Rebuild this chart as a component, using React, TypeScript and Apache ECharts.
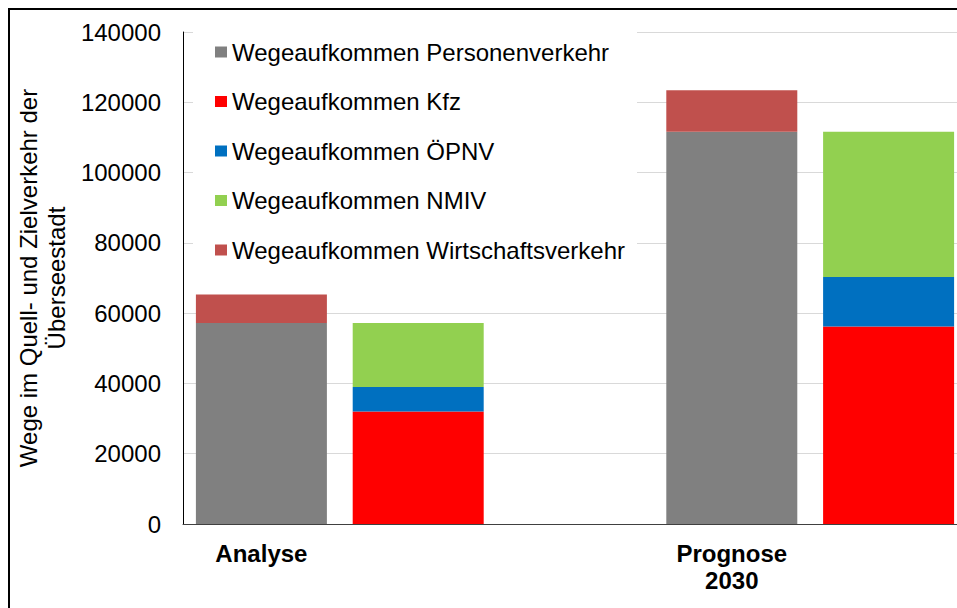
import React, { useEffect, useRef } from "react";
import * as echarts from "echarts";

const categories = ["Analyse", "Prognose\n2030"];
const personenverkehr = [57200, 111600];
const kfz = [32000, 56200];
const oepnv = [7000, 14100];
const nmiv = [18200, 41300];
const wirtschaftsverkehr = [8100, 11800];

const seriesNames = [
  "Wegeaufkommen Personenverkehr",
  "Wegeaufkommen Kfz",
  "Wegeaufkommen ÖPNV",
  "Wegeaufkommen NMIV",
  "Wegeaufkommen Wirtschaftsverkehr",
];
const seriesColors = ["#808080", "#ff0000", "#0070c0", "#92d050", "#c0504d"];
const yAxisTitle = "Wege im Quell- und Zielverkehr der\nÜberseestadt";

// Slot layout: per scenario a "total" slot, a "modal split" slot, and a spacer slot
const SLOTS_PER_SCENARIO = 3;
const slotCount = categories.length * SLOTS_PER_SCENARIO - 1;

function slotLabels(): string[] {
  const out: string[] = [];
  for (let s = 0; s < slotCount; s++) {
    out.push(s % SLOTS_PER_SCENARIO === 0 ? categories[s / SLOTS_PER_SCENARIO] : "");
  }
  return out;
}

function placeValues(values: number[], offset: number): (number | string)[] {
  const out: (number | string)[] = new Array(slotCount).fill("-");
  values.forEach((v, i) => {
    out[i * SLOTS_PER_SCENARIO + offset] = v;
  });
  return out;
}

export default function App() {
  const ref = useRef<HTMLDivElement>(null);

  useEffect(() => {
    if (!ref.current) return;
    const chart = echarts.init(ref.current, undefined, { renderer: "svg" });
    const seriesData = [
      placeValues(personenverkehr, 0),
      placeValues(kfz, 1),
      placeValues(oepnv, 1),
      placeValues(nmiv, 1),
      placeValues(wirtschaftsverkehr, 0),
    ];
    const font = "Arial, 'Liberation Sans', sans-serif";
    chart.setOption({
      animation: false,
      backgroundColor: "#ffffff",
      textStyle: { fontFamily: font },
      grid: {
        left: 183,
        top: 32,
        width: 784,
        height: 492,
        containLabel: false,
        outerBoundsMode: "none",
      },
      legend: {
        orient: "vertical",
        left: 193,
        top: 22,
        padding: [17, 12, 12, 22],
        backgroundColor: "#ffffff",
        itemWidth: 12,
        itemHeight: 11,
        itemGap: 23.5,
        icon: "rect",
        data: seriesNames,
        textStyle: { fontSize: 24, lineHeight: 26, color: "#000", fontFamily: font },
        z: 10,
      },
      xAxis: {
        type: "category",
        data: slotLabels(),
        axisLine: { show: true, lineStyle: { color: "#404040", width: 1 } },
        axisTick: { show: false },
        axisLabel: {
          interval: 0,
          margin: 16,
          fontSize: 24,
          fontWeight: "bold",
          lineHeight: 27,
          color: "#000",
          fontFamily: font,
        },
        splitLine: { show: false },
      },
      yAxis: {
        type: "value",
        min: 0,
        max: 140000,
        interval: 20000,
        name: yAxisTitle,
        nameLocation: "middle",
        nameRotate: 90,
        nameGap: 112,
        nameTextStyle: { fontSize: 24, lineHeight: 28, color: "#000", fontFamily: font, align: "center" },
        axisLine: { show: true, lineStyle: { color: "#000", width: 1 } },
        axisTick: { show: false },
        axisLabel: {
          margin: 22,
          fontSize: 24,
          color: "#000",
          fontFamily: font,
          formatter: (v: number) => String(v),
        },
        splitLine: { show: true, lineStyle: { color: "#d9d9d9", width: 1 } },
      },
      series: seriesNames.map((name, i) => ({
        name,
        type: "bar",
        stack: "total",
        barWidth: 131,
        itemStyle: { color: seriesColors[i] },
        data: seriesData[i],
      })),
      graphic: [
        {
          type: "rect",
          shape: { x: 9, y: 9, width: 1000, height: 700 },
          style: { fill: "none", stroke: "#000", lineWidth: 2 },
          silent: true,
          z: 100,
        },
      ],
    });
    return () => chart.dispose();
  }, []);

  return (
    <div
      ref={ref}
      style={{ position: "absolute", left: 0, top: 0, width: 957, height: 608 }}
    />
  );
}
